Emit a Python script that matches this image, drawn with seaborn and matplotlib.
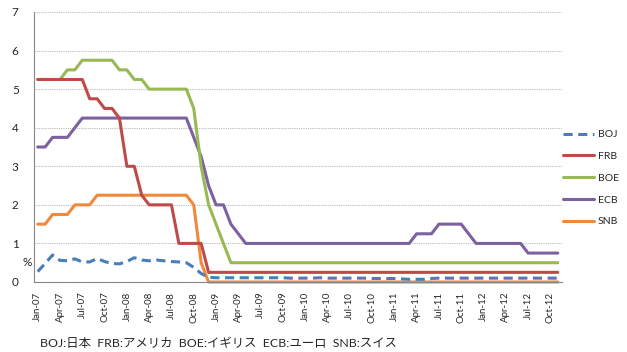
import matplotlib
matplotlib.use("Agg")
import matplotlib.pyplot as plt
import matplotlib.transforms as mtransforms
from matplotlib.lines import Line2D
import numpy as np
import pandas as pd
import seaborn as sns

# monthly policy rates, Jan-07 .. Nov-12
months = pd.date_range("2007-01-01", periods=71, freq="MS").strftime("%b-%y").tolist()

boj = [0.27, 0.48, 0.70, 0.56, 0.55, 0.60, 0.52, 0.52, 0.61, 0.53,
       0.48, 0.47, 0.53, 0.63, 0.57, 0.55, 0.57, 0.55, 0.53, 0.52,
       0.50, 0.38, 0.22, 0.12, 0.11, 0.11, 0.11, 0.11, 0.11, 0.11,
       0.11, 0.11, 0.11, 0.11, 0.10, 0.10, 0.10, 0.10, 0.11, 0.10,
       0.10, 0.10, 0.10, 0.10, 0.10, 0.09, 0.09, 0.09, 0.09, 0.08,
       0.07, 0.07, 0.07, 0.09, 0.10, 0.10, 0.10, 0.10, 0.10, 0.10,
       0.10, 0.10, 0.10, 0.10, 0.10, 0.10, 0.10, 0.10, 0.10, 0.10,
       0.10]
frb = [5.25]*7 + [4.75]*2 + [4.5]*2 + [4.25] + [3.0]*2 + [2.25] + [2.0]*4 + [1.0]*4 + [0.25]*48
boe = [5.25]*4 + [5.5]*2 + [5.75]*5 + [5.5]*2 + [5.25]*2 + [5.0]*6 + [4.5, 3.0, 2.0, 1.5, 1.0] + [0.5]*45
ecb = ([3.5]*2 + [3.75]*3 + [4.0] + [4.25]*15 + [3.75, 3.25, 2.5, 2.0, 2.0, 1.5, 1.25]
       + [1.0]*23 + [1.25]*3 + [1.5]*4 + [1.25] + [1.0]*7 + [0.75]*5)
snb = [1.5]*2 + [1.75]*3 + [2.0]*3 + [2.25]*13 + [2.0, 0.5] + [0.0]*48

banks = ["BOJ", "FRB", "BOE", "ECB", "SNB"]
series = [boj, frb, boe, ecb, snb]
colors = {"BOJ": "#4A7EBB", "FRB": "#BE4B48", "BOE": "#98B954", "ECB": "#7D60A0", "SNB": "#F0893B"}
note = "BOJ:日本  FRB:アメリカ  BOE:イギリス  ECB:ユーロ  SNB:スイス"

df = pd.concat([pd.DataFrame({"idx": np.arange(len(months)), "month": months, "rate": s, "bank": b})
                for b, s in zip(banks, series)], ignore_index=True)

sns.set_style("white")
plt.rcParams["font.family"] = ["Lato", "Noto Sans CJK JP", "DejaVu Sans"]

fig = plt.figure(figsize=(6.27, 3.52), dpi=100)
ax = fig.add_axes([34 / 627, 70 / 352, 527.5 / 627, 270 / 352])

dash_map = {"BOJ": (3.0, 1.8), "FRB": "", "BOE": "", "ECB": "", "SNB": ""}
sns.lineplot(data=df, x="idx", y="rate", hue="bank", style="bank", hue_order=banks[::-1],
             style_order=banks[::-1], palette=colors, dashes=dash_map, linewidth=2.2,
             legend=False, ax=ax)
for ln in ax.lines:
    ln.set_clip_on(False)

ax.set_xlim(-0.5, len(months) - 0.5)
ax.set_ylim(0, 7)
ax.set_yticks(range(0, 8))
ax.set_yticklabels([str(v) for v in range(0, 8)], fontsize=8.5)
ax.set_xticks(range(0, len(months), 3))
ax.set_xticklabels(months[::3], rotation=90, fontsize=7)
ax.set_xticks(np.arange(-0.5, len(months) - 1, 3), minor=True)
ax.tick_params(axis="x", which="major", length=0, pad=7)
ax.tick_params(axis="x", which="minor", length=4, color="#868686", width=0.8, direction="out")
ax.tick_params(axis="y", length=4, color="#868686", width=0.8, direction="out", pad=7)
ax.set_xlabel("")
ax.set_ylabel("")

ax.yaxis.grid(True, color="#BBBBBB", linestyle=(0, (1, 1)), linewidth=0.8)
ax.xaxis.grid(False)
ax.set_axisbelow(True)
for side in ["top", "right"]:
    ax.spines[side].set_visible(False)
for side in ["left", "bottom"]:
    ax.spines[side].set_color("#868686")
    ax.spines[side].set_linewidth(0.8)

trans = mtransforms.blended_transform_factory(ax.transAxes, ax.transData)
ax.text(-0.013, 0.5, "%", transform=trans, ha="center", va="center", fontsize=8.5)

handles = [Line2D([], [], color=colors[b], linewidth=2.2,
                  linestyle=(0, (3.0, 1.8)) if b == "BOJ" else "-") for b in banks]
fig.legend(handles, banks, loc="upper left", bbox_to_anchor=(563 / 627, 1 - 130 / 352),
           frameon=False, fontsize=7.5, handlelength=3.0, handletextpad=0.35,
           labelspacing=1.2, borderpad=0, borderaxespad=0)

fig.text(40 / 627, 1 - 343 / 352, note, ha="left", va="center", fontsize=8.9)

fig.savefig("out.png", dpi=100)
